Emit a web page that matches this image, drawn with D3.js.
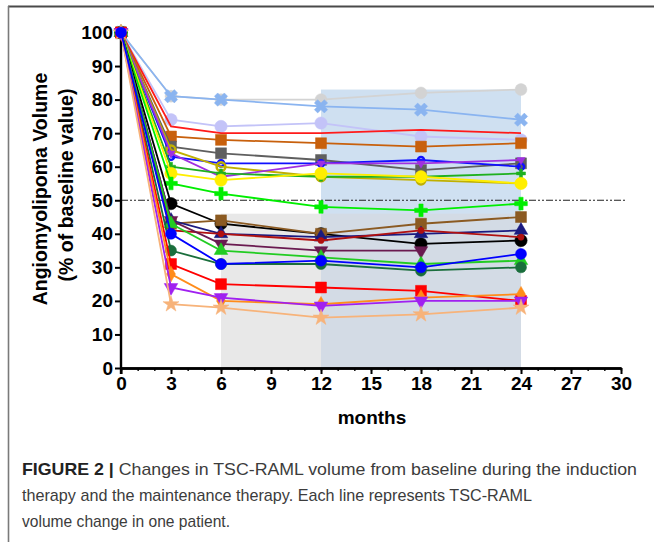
<!DOCTYPE html>
<html><head><meta charset="utf-8">
<script src="https://cdn.jsdelivr.net/npm/d3@7"></script>
<style>
html,body{margin:0;padding:0;background:#fff;}
svg{display:block;}
</style></head>
<body>
<svg id="c" width="654" height="542"></svg>
<script>
const months = [0, 3, 6, 12, 18, 24];
const xTicks = [0, 3, 6, 9, 12, 15, 18, 21, 24, 27, 30];
const yTicks = [0, 10, 20, 30, 40, 50, 60, 70, 80, 90, 100];

// patient series: color, marker, values at months
const seriesNames = ["P1","P2","P3","P4","P5","P6","P7","P8","P9","P10","P11","P12","P13","P14","P15","P16","P17","P18","P19","P20","P21","P22","P23","P24"];
const seriesColors = ["#d3d3d3","#8ab4f0","#c3c3f8","#ff1a1a","#c8600c","#5f5f5f","#1010ff","#c0b000","#a030e0","#1fb01f","#ffee00","#00ee00","#000000","#8b5a22","#1a1a80","#b01010","#6a1a50","#22cc22","#1a6e3c","#ff0000","#ff8c1a","#a020f0","#f7b37a","#0000ff"];
const seriesMarkers = ["hex","x","circleL","none","square","square","ring","ringS","triDownS","plusS","circleL","plus","circleL","square","tri","circleS","triDown","tri","circle","square","diamond","triDown","star","circle"];
const seriesValues = [
  [100, 81, 80, 80, 82, 83],
  [100, 81, 80, 78, 77, 74],
  [100, 74, 72, 73, 69, 68],
  [100, 72, 70, 70, 71, 70],
  [100, 69, 68, 67, 66, 67],
  [100, 66, 64, 62, 59, 61],
  [100, 63, 61, 61, 62, 60],
  [100, 65, 60, 57, 56, 55],
  [100, 64, 57, 61, 61, 62],
  [100, 60, 58, 57, 57, 58],
  [100, 58, 56, 58, 57, 55],
  [100, 55, 52, 48, 47, 49],
  [100, 49, 43, 40, 37, 38],
  [100, 43, 44, 40, 43, 45],
  [100, 44, 40, 39, 40, 41],
  [100, 41, 40, 38, 41, 39],
  [100, 44, 37, 35, 35, null],
  [100, 43, 35, 33, 31, 32],
  [100, 35, 31, 31, 29, 30],
  [100, 31, 25, 24, 23, 20],
  [100, 28, 20, 19, 21, 22],
  [100, 24, 21, 18.5, 20, 20],
  [100, 19, 18, 15, 16, 18],
  [100, 40, 31, 32, 30, 34]
];
// shaded therapy phases: start month, end month, top value
const phaseStart = [6, 12, 12];
const phaseEnd   = [12, 24, 24];
const phaseTop   = [46, 83, 46];
const phaseFill  = ["#e8e8e8", "#cfe0f1", "#d3dbe5"];
const refLine = 50;

const svg = d3.select("#c");
const x = d3.scaleLinear().domain([0, 30]).range([121, 621]);
const y = d3.scaleLinear().domain([0, 100]).range([368, 32.5]);
const FONT = "'Liberation Sans', Arial, Helvetica, sans-serif";

// frame
svg.append("line").attr("x1", 8).attr("x2", 654).attr("y1", 6.5).attr("y2", 6.5).attr("stroke", "#4a4a4a").attr("stroke-width", 2);
svg.append("line").attr("x1", 8.5).attr("x2", 8.5).attr("y1", 6).attr("y2", 542).attr("stroke", "#7a7a7a").attr("stroke-width", 1.6);

// phases
phaseStart.forEach((s, i) => {
  svg.append("rect").attr("x", x(s)).attr("y", y(phaseTop[i]))
    .attr("width", x(phaseEnd[i]) - x(s)).attr("height", y(0) - y(phaseTop[i]))
    .attr("fill", phaseFill[i]);
});

// reference dash-dot line
svg.append("line").attr("x1", x(0)).attr("x2", x(30) + 4).attr("y1", y(refLine)).attr("y2", y(refLine))
  .attr("stroke", "#222").attr("stroke-width", 1.2).attr("stroke-dasharray", "7,2,2,2,2,2");

// axes
const yAxis = d3.axisLeft(y).tickValues(yTicks).tickSize(6).tickPadding(2).tickSizeOuter(0);
const gy = svg.append("g").attr("transform", `translate(${x(0)},0)`).call(yAxis);
const xAxisMinor = d3.axisBottom(x).ticks(30).tickSize(3).tickFormat("").tickSizeOuter(0);
const gxm = svg.append("g").attr("transform", `translate(0,${y(0)})`).call(xAxisMinor);
const xAxis = d3.axisBottom(x).tickValues(xTicks).tickSize(6).tickPadding(3).tickSizeOuter(0);
const gx = svg.append("g").attr("transform", `translate(0,${y(0)})`).call(xAxis);
[gy, gx, gxm].forEach(g => {
  g.selectAll(".domain").attr("stroke", "#000").attr("stroke-width", 2.4);
  g.selectAll(".tick line").attr("stroke", "#000").attr("stroke-width", 2);
  g.selectAll("text").attr("fill", "#000").style("font-family", FONT).style("font-weight", "bold").style("font-size", "19px");
});
gxm.selectAll(".tick line").attr("stroke-width", 1.4);
gy.select(".domain").attr("d", `M0,${y(0) + 6}V${y(100)}`);

// series
const line = d3.line().defined(d => d[1] != null).x(d => x(d[0])).y(d => y(d[1]));
function symPath(type) {
  const map = {
    circle: [d3.symbolCircle, 95], circleL: [d3.symbolCircle, 120], circleS: [d3.symbolCircle, 30],
    ring: [d3.symbolCircle, 30], ringS: [d3.symbolCircle, 60], hex: [d3.symbolCircle, 110],
    square: [d3.symbolSquare, 120], tri: [d3.symbolTriangle, 80], triDown: [d3.symbolTriangle, 80],
    triDownS: [d3.symbolTriangle, 30], diamond: [d3.symbolDiamond, 70], star: [d3.symbolStar, 80],
    plus: [d3.symbolCross, 90], plusS: [d3.symbolCross, 45], x: [d3.symbolCross, 110]
  };
  const m = map[type];
  return m ? d3.symbol().type(m[0]).size(m[1])() : null;
}
const rot = {triDown: 180, triDownS: 180, x: 45};

seriesValues.forEach((vals, i) => {
  const pts = months.map((m, j) => [m, vals[j]]);
  const g = svg.append("g").attr("class", "series").attr("data-name", seriesNames[i]);
  g.append("path").datum(pts).attr("d", line).attr("fill", "none")
    .attr("stroke", seriesColors[i]).attr("stroke-width", 1.8);
  const p = symPath(seriesMarkers[i]);
  if (p) {
    g.selectAll("path.m").data(pts.filter(d => d[1] != null)).join("path").attr("class", "m")
      .attr("d", p)
      .attr("transform", d => `translate(${x(d[0])},${y(d[1])}) rotate(${rot[seriesMarkers[i]] || 0})`)
      .attr("fill", seriesMarkers[i].startsWith("ring") ? "none" : seriesColors[i])
      .attr("stroke", seriesColors[i])
      .attr("stroke-width", seriesMarkers[i].startsWith("ring") ? 2.5 : 0.5);
  }
});

// axis titles
svg.append("text").attr("x", (x(0) + x(30)) / 2 + 1).attr("y", 424).attr("text-anchor", "middle")
  .style("font-family", FONT).style("font-weight", "bold").style("font-size", "19px").text("months");
svg.append("text").attr("transform", "translate(47,189) rotate(-90)").attr("text-anchor", "middle")
  .style("font-family", FONT).style("font-weight", "bold").style("font-size", "19.5px").text("Angiomyolipoma Volume");
svg.append("text").attr("transform", "translate(73,185) rotate(-90)").attr("text-anchor", "middle")
  .style("font-family", FONT).style("font-weight", "bold").style("font-size", "19.5px").text("(% of baseline value)");

// caption
const capLines = [
  ["FIGURE 2 | ", "Changes in TSC-RAML volume from baseline during the induction", 615],
  ["", "therapy and the maintenance therapy. Each line represents TSC-RAML", 510],
  ["", "volume change in one patient.", 208]
];
capLines.forEach((c, i) => {
  const t = svg.append("text").attr("x", 22).attr("y", 475 + i * 26)
    .style("font-family", FONT).style("font-size", "17px").attr("fill", "#3c3c3c")
    .attr("textLength", c[2]).attr("lengthAdjust", "spacingAndGlyphs");
  if (c[0]) t.append("tspan").style("font-weight", "bold").attr("fill", "#222").text(c[0]);
  t.append("tspan").text(c[1]);
});
</script>
</body></html>
